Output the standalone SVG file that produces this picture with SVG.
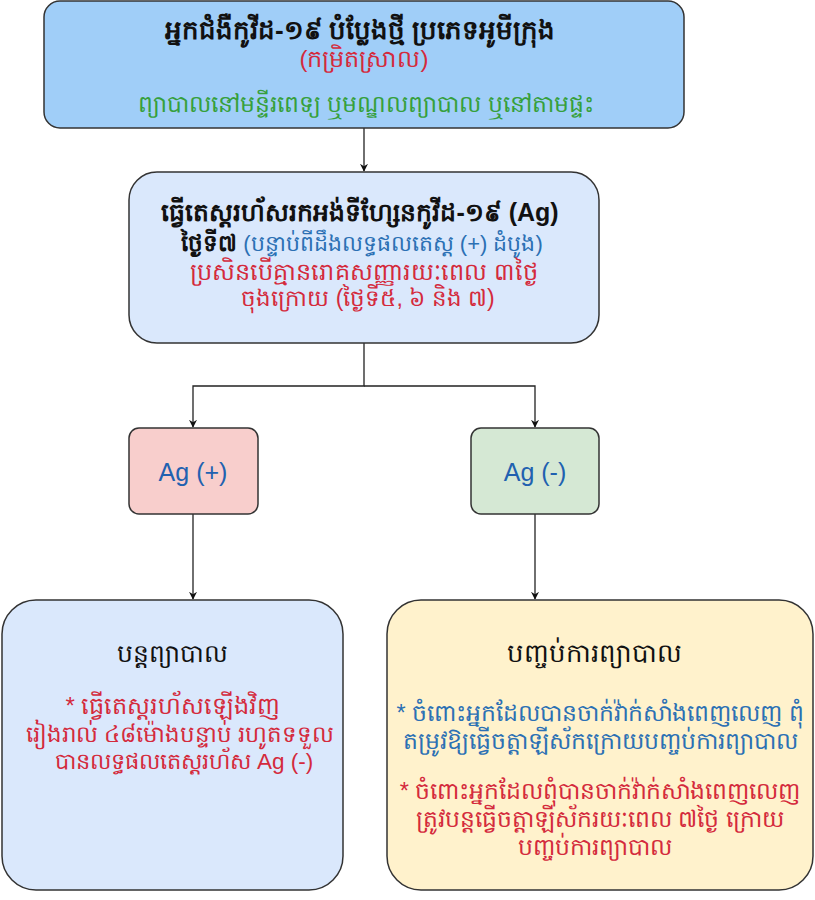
<svg xmlns="http://www.w3.org/2000/svg" width="815" height="900" viewBox="0 0 815 900">
<defs>
<marker id="arr" viewBox="0 0 10 10" refX="9" refY="5" markerWidth="8" markerHeight="8" markerUnits="userSpaceOnUse" orient="auto">
<path d="M0,0 L10,5 L0,10 L3,5 Z" fill="#111"/>
</marker>
<style>
.box{stroke:#333;stroke-width:1.5}
text{font-family:"Liberation Sans","Noto Sans",sans-serif;text-anchor:middle}
.t{font-size:25px;font-weight:bold;fill:#111}
.h{font-size:25px;fill:#111}
.b{font-size:24px}
.red{fill:#d42a3c}
.grn{fill:#36a03c}
.blu{fill:#2b70b4}
.ag{font-size:25px;fill:#2161b0}
.conn{fill:none;stroke:#222;stroke-width:1.3}
</style>
</defs>
<rect width="815" height="900" fill="#ffffff"/>
<g id="connectors">
<path class="conn" d="M364,128 V171" marker-end="url(#arr)"/>
<path class="conn" d="M364,343 V386 H193 V427" marker-end="url(#arr)"/>
<path class="conn" d="M364,386 H535 V427" marker-end="url(#arr)"/>
<path class="conn" d="M193,514 V599" marker-end="url(#arr)"/>
<path class="conn" d="M535,514 V599" marker-end="url(#arr)"/>
</g>
<g id="node-start">
<rect class="box" x="44" y="1" width="640" height="127" rx="16" fill="#a0cef8"/>
<text class="t" x="360" y="39" style="font-size:26px">អ្នកជំងឺកូវីដ-១៩ បំប្លែងថ្មី ប្រភេទអូមីក្រុង</text>
<text class="b red" x="364" y="67">(កម្រិតស្រាល)</text>
<text class="b grn" x="366" y="112" style="font-size:23.5px">ព្យាបាលនៅមន្ទីរពេទ្យ ឬមណ្ឌលព្យាបាល ឬនៅតាមផ្ទះ</text>
</g>
<g id="node-test">
<rect class="box" x="129" y="172" width="470" height="171" rx="28" fill="#dae8fc"/>
<text class="t" x="360" y="221">ធ្វើតេស្តរហ័សរកអង់ទីហ្សែនកូវីដ-១៩ (Ag)</text>
<text class="b" x="362" y="251" style="font-size:22px"><tspan class="t" style="font-size:23px">ថ្ងៃទី៧</tspan><tspan class="blu"> (បន្ទាប់ពីដឹងលទ្ធផលតេស្ត (+) ដំបូង)</tspan></text>
<text class="b red" x="364" y="280">ប្រសិនបើគ្មានរោគសញ្ញារយៈពេល ៣ថ្ងៃ</text>
<text class="b red" x="368" y="306" style="font-size:23px">ចុងក្រោយ (ថ្ងៃទី៥, ៦ និង ៧)</text>
</g>
<g id="node-agpos">
<rect class="box" x="129" y="428" width="129" height="86" rx="10" fill="#f8cecc"/>
<text class="ag" x="193" y="481">Ag (+)</text>
</g>
<g id="node-agneg">
<rect class="box" x="471" y="428" width="128" height="86" rx="10" fill="#d5e8d4"/>
<text class="ag" x="535" y="481">Ag (-)</text>
</g>
<g id="node-continue">
<rect class="box" x="2" y="600" width="341" height="290" rx="34" fill="#dae8fc"/>
<text class="h" x="172" y="662">បន្តព្យាបាល</text>
<text class="b red" x="173" y="714">* ធ្វើតេស្តរហ័សឡើងវិញ</text>
<text class="b red" x="180" y="742" style="font-size:23px">រៀងរាល់ ៤៨ម៉ោងបន្ទាប់ រហូតទទួល</text>
<text class="b red" x="184" y="769" style="font-size:22.5px">បានលទ្ធផលតេស្តរហ័ស Ag (-)</text>
</g>
<g id="node-end">
<rect class="box" x="387" y="600" width="426" height="290" rx="34" fill="#fff2cc"/>
<text class="h" x="594" y="662" style="font-size:26px">បញ្ចប់ការព្យាបាល</text>
<text class="b blu" x="600" y="721" style="font-size:23.5px">* ចំពោះអ្នកដែលបានចាក់វ៉ាក់សាំងពេញលេញ ពុំ</text>
<text class="b blu" x="600" y="749" style="font-size:23.5px">តម្រូវឱ្យធ្វើចត្តាឡីស័កក្រោយបញ្ចប់ការព្យាបាល</text>
<text class="b red" x="600" y="799" style="font-size:23.5px">* ចំពោះអ្នកដែលពុំបានចាក់វ៉ាក់សាំងពេញលេញ</text>
<text class="b red" x="600" y="827" style="font-size:23.5px">ត្រូវបន្តធ្វើចត្តាឡីស័ករយៈពេល ៧ថ្ងៃ ក្រោយ</text>
<text class="b red" x="595" y="855" style="font-size:23.5px">បញ្ចប់ការព្យាបាល</text>
</g>
</svg>
